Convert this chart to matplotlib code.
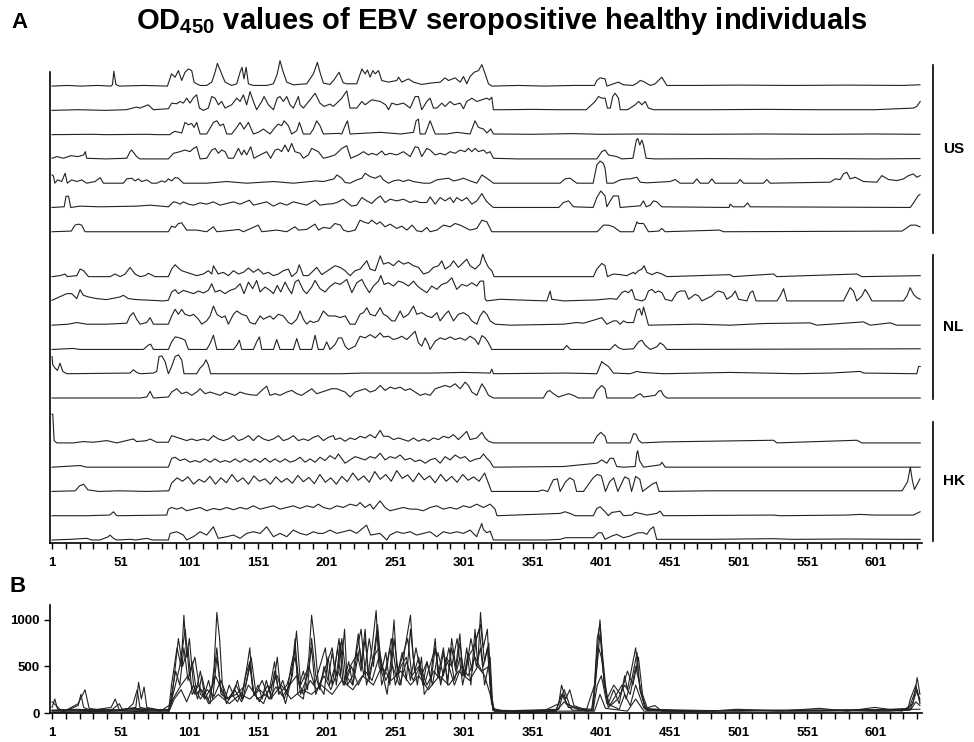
import matplotlib
matplotlib.use("Agg")
import matplotlib.pyplot as plt
import numpy as np

plt.rcParams["font.family"] = ["Liberation Sans", "DejaVu Sans"]
plt.rcParams["font.weight"] = "bold"
plt.rcParams["mathtext.fontset"] = "custom"
plt.rcParams["mathtext.rm"] = "Liberation Sans:bold"
plt.rcParams["mathtext.bf"] = "Liberation Sans:bold"

# residue position vs OD450 (one row of panel A = ~1000 units)
us_1 = [(1, 0), (12, 27), (22, 0), (34, 27), (44, 0), (45, 68), (46, 612), (47.5, 68), (50, 0), (68, 27), (85, 0),
        (88, 503), (90.6, 367), (93, 639), (95.4, 231), (97.8, 571), (100.3, 707), (102.7, 639), (104.4, 163),
        (106.3, 95), (108.8, 27), (113.6, 27), (117.3, 163), (119.7, 571), (121.4, 938), (124.5, 503), (127, 163),
        (131.8, 27), (135.5, 95), (137.9, 571), (139.3, 775), (140.8, 299), (142.3, 775), (144, 95), (147.6, 27),
        (157.3, 27), (162.2, 95), (165, 503), (167, 1047), (169, 639), (171.9, 163), (176.7, 54), (186.4, 95),
        (191.3, 503), (194.2, 979), (196.1, 571), (198.6, 122), (203.4, 68), (206, 231), (210, 571), (213, 136),
        (215.6, 95), (222.9, 95), (226.6, 707), (229, 503), (230.7, 667), (232.6, 367), (234.6, 639), (236.3, 503),
        (238.7, 639), (241.1, 231), (246, 163), (252, 231), (253.3, 367), (255.7, 163), (260.5, 299), (264.2, 163),
        (270.2, 68), (276.3, 122), (283.6, 163), (287.2, 340), (289.7, 231), (294.5, 340), (298.2, 163),
        (300.6, 394), (303, 95), (305.4, 394), (308.4, 571), (311.5, 639), (314, 884), (316.4, 503), (318.8, 95),
        (321.2, 0), (340, 27), (360, 0), (380, 27), (396, 27), (397.7, 231), (400.1, 340), (403.7, 299), (405, 0),
        (409.8, 95), (413.5, 163), (417.1, 54), (424, 27), (427, 122), (429.3, 231), (431.7, 190), (433.7, 122),
        (436.6, 27), (440.2, 95), (445, 367), (448.7, 27), (470, 27), (500, 41), (540, 27), (580, 41), (620, 27),
        (633, 54)]
us_2 = [(1, 0), (20, 27), (40, 0), (55, 27), (62.6, 136), (65, 95), (71, 231), (74.8, 27), (85.7, 68), (88.1, 299),
        (91.8, 272), (94.2, 367), (96.6, 299), (99, 503), (101.5, 299), (104, 530), (106.3, 639), (108.3, 95),
        (111.2, 0), (114.8, 95), (117.3, 571), (119.7, 503), (122.1, 231), (124.5, 367), (127, 95), (131.8, 231),
        (135.5, 503), (137.9, 367), (140.3, 639), (142.7, 231), (145.2, 775), (147.6, 367), (150, 27), (153.7, 367),
        (155.4, 571), (158.5, 231), (162.2, 27), (165, 503), (167, 571), (169.4, 367), (171.9, 571), (174.3, 231),
        (176.7, 95), (180.4, 571), (181.6, 231), (184, 95), (188.9, 435), (192.5, 707), (196.1, 299), (199, 163),
        (203.4, 258), (205.8, 163), (209.6, 367), (212, 503), (215.6, 802), (218, 95), (222.9, 95), (226.6, 367),
        (229, 231), (233.8, 435), (240, 367), (243.9, 231), (246, 27), (248.4, 299), (252, 231), (256.9, 299),
        (261.8, 95), (265.4, 571), (267.8, 571), (270.2, 27), (273.9, 367), (276.3, 503), (278.7, 95), (281.2, 95),
        (284.8, 299), (287.2, 163), (290.9, 367), (293.8, 231), (298.2, 299), (300.6, 68), (303, 367), (306.7, 503),
        (310.3, 367), (313.9, 435), (317.6, 503), (319.5, 435), (321.2, 544), (322.4, 27), (330, 27), (350, 41),
        (370, 27), (390, 27), (396.5, 367), (398.9, 571), (401.3, 503), (403.7, 503), (405.4, 95), (407.5, 95),
        (409.3, 571), (411, 707), (413.5, 503), (414.7, 27), (420, 27), (422, 95), (425.6, 231), (428.1, 367),
        (430.5, 231), (432.9, 367), (435.3, 95), (439, 27), (480, 27), (520, 41), (560, 27), (600, 27),
        (628.3, 95), (630.7, 163), (633.2, 367)]
us_3 = [(1, 0), (30, 14), (40, 0), (70, 14), (78, 0), (87, 0), (88.1, 68), (90.6, 136), (95.4, 68), (97.8, 503),
        (100.3, 408), (102.7, 462), (104.4, 299), (106.3, 503), (108.8, 27), (113.6, 27), (118.5, 503), (121, 571),
        (123.3, 367), (125.8, 435), (128.2, 27), (131.8, 27), (135.5, 299), (137.9, 503), (140.8, 231), (144, 503),
        (147.6, 27), (151.2, 95), (154.9, 231), (159.7, 27), (163.4, 299), (165.8, 435), (168.2, 367), (170, 571),
        (173.1, 367), (175.5, 27), (179.2, 163), (181.1, 503), (184, 27), (188.9, 27), (191.3, 231), (193.7, 571),
        (196.1, 367), (198.6, 27), (210, 54), (212, 27), (214.4, 367), (216.1, 571), (218, 27), (240, 95),
        (255, 27), (264.2, 95), (266.1, 571), (267.8, 639), (269, 27), (272.7, 27), (276.3, 571), (280, 27),
        (288.4, 27), (295.7, 95), (305.4, 27), (309, 571), (311.5, 299), (315.2, 231), (317.6, 68), (320.5, 231),
        (322.4, 27), (350, 14), (380, 41), (400, 14), (430, 27), (470, 14), (520, 27), (560, 14), (600, 27),
        (633, 14)]
us_4 = [(1, 27), (4.4, 95), (9.3, 27), (14.8, 136), (19.7, 95), (24, 163), (25.2, 299), (26.2, 27), (40, 0),
        (55.4, 27), (57.8, 299), (59, 367), (62.6, 95), (65, 0), (85.7, 0), (89.4, 231), (94.2, 299), (97.8, 367),
        (101.5, 299), (104, 435), (106.3, 503), (108.8, 0), (113.6, 27), (117.3, 367), (119.7, 435), (122.1, 231),
        (124.5, 367), (127, 299), (129.4, 27), (133.1, 27), (136.7, 435), (139.1, 163), (140.8, 367), (142.7, 163),
        (145.7, 503), (148, 27), (152.5, 163), (157.3, 299), (160.2, 27), (163.4, 367), (165.8, 408), (168.2, 299),
        (170.6, 571), (173.1, 299), (175.5, 639), (177.9, 299), (181.6, 231), (184, 27), (187.6, 163),
        (190.1, 435), (192.5, 367), (194.9, 299), (198.6, 27), (203.4, 95), (207, 163), (209.6, 299), (212, 435),
        (215.6, 544), (218.5, 27), (224, 163), (227.8, 299), (231.4, 163), (233.8, 231), (237.5, 163),
        (241.1, 326), (243.5, 163), (247.2, 231), (252, 163), (256.9, 299), (261.8, 95), (265.4, 503),
        (267.8, 462), (270.2, 95), (273.9, 435), (276.3, 367), (280, 163), (283.6, 231), (287.2, 163),
        (290.9, 299), (294.5, 231), (298.2, 367), (301.8, 299), (304.2, 435), (306.7, 299), (309.1, 435),
        (311.5, 299), (315.2, 367), (317.6, 231), (320, 299), (322.4, 27), (340, 0), (397.7, 0), (401.3, 299),
        (403.7, 367), (406.2, 163), (412.2, 95), (416, 0), (424, 27), (426.5, 775), (427.5, 843), (429, 571),
        (430.5, 775), (431.7, 571), (433.6, 27), (440, 0), (480, 14), (520, 0), (560, 14), (600, 0), (633, 14)]
us_5 = [(1, 340), (2, 299), (3, 0), (5, 136), (8, 68), (10.5, 408), (12.1, 0), (15.3, 136), (19, 68), (22.6, 136),
        (26.2, 0), (32.3, 68), (36, 231), (38.4, 0), (52.9, 0), (55.4, 177), (59, 204), (61.4, 95), (63.9, 177),
        (66.3, 68), (70, 136), (73.6, 0), (77.2, 0), (80.9, 95), (83.3, 41), (85.7, 177), (88.1, 95), (90.6, 231),
        (93, 204), (96.6, 0), (113.6, 0), (128.2, 68), (142.7, 0), (162.2, 68), (176.7, 0), (193.7, 95),
        (198.6, 68), (206.3, 177), (208.4, 340), (212, 204), (214.4, 27), (218, 0), (222.9, 136), (226.6, 204),
        (229, 408), (232.6, 272), (236.3, 204), (239.9, 313), (242.3, 136), (246, 0), (249.6, 95), (253.3, 136),
        (256.9, 68), (260.5, 136), (264.2, 68), (271.5, 0), (276.3, 0), (281.2, 136), (286, 177), (289.7, 204),
        (293.3, 95), (296.9, 136), (300.6, 204), (305.4, 95), (310.3, 0), (314, 340), (317.6, 204), (322.4, 0),
        (371, 0), (374.6, 177), (378.3, 204), (383.1, 0), (395, 0), (397.7, 748), (400.1, 911), (402.5, 816),
        (403.7, 612), (405, 0), (409.8, 0), (414.7, 136), (419.5, 177), (422, 177), (426.9, 245), (429.3, 41),
        (434, 14), (451, 68), (454.8, 150), (458.4, 0), (468, 0), (470.5, 177), (473, 0), (479, 0), (481.5, 177),
        (483.9, 0), (500, 0), (502.1, 150), (504.5, 0), (519, 0), (521.5, 150), (524, 0), (567.6, 41),
        (571.3, 177), (574.9, 150), (577.3, 381), (579.8, 449), (582.2, 177), (585.8, 245), (591.9, 68),
        (601.6, 41), (605.3, 313), (610.1, 150), (616.2, 109), (621, 177), (624.7, 313), (628.3, 381),
        (630.7, 245), (633.2, 313)]
us_6 = [(1, 0), (9.8, 27), (11.2, 462), (13, 462), (14.6, 0), (21.4, 54), (36, 27), (62.6, 54), (72.4, 95),
        (85.7, 27), (89.4, 231), (91.8, 204), (94.2, 136), (96.6, 231), (100.3, 136), (104, 95), (108.8, 190),
        (113.6, 136), (118.5, 231), (123.3, 95), (128.2, 163), (133.1, 231), (137.9, 136), (144.7, 299),
        (147.6, 95), (152.5, 163), (157.3, 231), (162.2, 54), (167, 190), (171.9, 95), (176.7, 231), (181.6, 163),
        (186.4, 95), (192.5, 299), (196.1, 95), (201, 136), (205, 150), (208.4, 204), (213, 340), (216.8, 163),
        (219.3, 54), (222.9, 95), (226.6, 408), (230.2, 272), (233.8, 163), (236.8, 340), (240, 476),
        (243.5, 204), (247.2, 340), (252, 272), (256.9, 340), (261.8, 204), (265.4, 272), (269, 204),
        (273.9, 204), (276.3, 435), (280, 136), (283.6, 408), (287.2, 272), (290.9, 408), (293.3, 204),
        (295.7, 408), (299.4, 272), (303, 408), (306.7, 136), (310.3, 272), (314, 571), (317.1, 272),
        (319.5, 136), (322.4, 0), (370, 0), (373.4, 204), (377.1, 272), (380.7, 27), (395, 0), (397.7, 408),
        (400.6, 680), (403.7, 476), (405, 27), (407.5, 272), (409.8, 476), (413.5, 476), (414.7, 0), (429.3, 68),
        (431.7, 272), (433.7, 27), (436.6, 95), (439, 272), (441.4, 231), (445, 27), (494, 0), (494.8, 136),
        (497, 27), (505, 27), (507.4, 190), (509.4, 27), (626, 0), (628.3, 190), (632, 503), (633, 530)]
us_7 = [(1, 0), (15, 27), (17.7, 272), (20.2, 313), (22.6, 272), (25, 0), (85.7, 0), (88.1, 231), (90.6, 177),
        (93, 340), (95.4, 367), (99, 68), (106.3, 68), (113.6, 0), (118.5, 204), (121, 0), (133.1, 68),
        (137, 95), (140.3, 0), (151.2, 272), (153.7, 0), (164.6, 68), (171.9, 0), (177.9, 204), (180.4, 68),
        (186.4, 95), (192.5, 313), (195, 68), (198.6, 177), (203.4, 136), (207, 340), (211, 272), (213.2, 68),
        (216.8, 0), (221.7, 68), (225.3, 476), (227.8, 408), (231.4, 340), (233.8, 476), (237.5, 313),
        (239.9, 408), (243.5, 204), (247.2, 313), (252, 136), (255.7, 231), (259.3, 68), (263.2, 272),
        (266.6, 41), (270.2, 0), (273.9, 177), (276.3, 0), (281.2, 68), (286, 272), (290.9, 204), (294.5, 340),
        (298.2, 272), (300.6, 204), (305.4, 68), (310.3, 136), (314, 476), (317.6, 408), (321.2, 0), (398, 0),
        (402.5, 272), (406.2, 272), (409.8, 204), (414.7, 0), (424.4, 0), (426.9, 408), (428, 340), (431.7, 340),
        (435.3, 0), (443, 27), (445, 136), (447.5, 0), (487, 68), (490, 0), (620, 27), (626.3, 272), (630, 272),
        (633, 204)]

nl_1 = [(1, 0), (6.8, 41), (10.5, 109), (12, 0), (19, 41), (21.4, 313), (24, 245), (27.5, 0), (43.2, 0),
        (46.9, 109), (50.5, 0), (54.2, 109), (57.8, 381), (61.4, 109), (65, 0), (68.7, 41), (71.1, 136), (76, 0),
        (85.7, 0), (88.1, 313), (90.6, 489), (93, 354), (95.4, 245), (99, 177), (102.7, 109), (106.3, 41),
        (111.2, 109), (114.8, 245), (117.3, 109), (118.5, 449), (122, 109), (125.7, 177), (129.4, 41),
        (133.1, 245), (136.7, 109), (140.3, 177), (144, 354), (147.6, 177), (151.2, 313), (154.9, 109),
        (158.5, 177), (162.2, 41), (165.8, 109), (169.4, 245), (173.1, 313), (175.5, 0), (179.2, 177),
        (181, 489), (184, 41), (187.6, 41), (191.3, 245), (193.7, 381), (197.4, 82), (201, 218), (203.5, 313),
        (207.1, 449), (210.8, 381), (214.4, 245), (218, 41), (221.7, 245), (225.3, 313), (227.8, 489),
        (230.2, 653), (232.6, 313), (236.3, 245), (240, 857), (242.3, 517), (246, 585), (249.6, 449),
        (253.3, 653), (256.9, 517), (260.5, 585), (264.2, 449), (267.8, 381), (271.5, 109), (275.1, 177),
        (278.7, 381), (282.4, 449), (284.8, 653), (287.2, 313), (290.9, 449), (293.3, 653), (296.9, 381),
        (300.6, 585), (303, 721), (305.4, 449), (309.1, 313), (312.7, 517), (314.7, 925), (316.4, 653),
        (318.8, 381), (321.2, 245), (322.9, 0), (395.2, 0), (397.7, 313), (401.3, 544), (403.7, 449), (405.4, 0),
        (409.8, 109), (414.7, 82), (419.5, 41), (424.4, 177), (425.6, 109), (428, 245), (430.5, 313),
        (432.2, 449), (434.1, 177), (437.8, 82), (441.4, 177), (445, 109), (448.7, 0), (494.8, 82), (497, 0),
        (526.4, 109), (528.8, 0), (587, 109), (590.7, 0), (633.2, 41)]
nl_2 = [(1, 27), (11.7, 299), (15.3, 299), (19, 95), (21.4, 462), (23.8, 231), (27.5, 163), (33.5, 95), (40.8, 54),
        (50.5, 163), (52.9, 231), (56.6, 95), (62.6, 54), (72.4, 27), (82.1, 0), (85.7, 27), (88.1, 367),
        (90.6, 462), (93, 299), (96.6, 435), (100.3, 367), (104, 299), (107.6, 408), (111.2, 326), (114.8, 435),
        (117.3, 707), (119.7, 367), (123.3, 435), (127, 299), (130.6, 435), (134.3, 503), (137.9, 707),
        (140.8, 299), (144, 775), (147.1, 503), (150, 843), (152.5, 367), (156.1, 571), (159.7, 435),
        (162.2, 299), (165, 639), (167.5, 367), (170.7, 775), (173.1, 503), (175.5, 299), (178, 775),
        (180.4, 870), (184, 435), (186.4, 299), (190.1, 571), (192.5, 843), (196.1, 503), (199.8, 367),
        (203.4, 598), (207.1, 748), (210.8, 680), (215.6, 884), (219.3, 340), (222.9, 748), (226.6, 884),
        (229, 612), (232.1, 340), (235, 612), (238.7, 816), (240.4, 1047), (242.8, 680), (246, 748), (249.6, 612),
        (253.3, 816), (256.9, 748), (260.5, 612), (264.2, 816), (267.1, 612), (270.2, 476), (273.9, 340),
        (277.5, 612), (281.2, 476), (284.8, 680), (288.5, 748), (292.1, 952), (295.7, 476), (299.4, 680),
        (303, 612), (306.7, 748), (310.3, 612), (312.7, 816), (315.2, 816), (316.4, 68), (317.6, 0), (327.3, 68),
        (339.4, 41), (361.3, 0), (362.5, 204), (363.7, 408), (364.9, 68), (373.4, 0), (397.7, 41), (407.4, 95),
        (412.2, 68), (415.9, 340), (418.3, 408), (420.7, 340), (423.2, 476), (425.6, 68), (430.5, 0),
        (432.9, 68), (435.3, 408), (437.8, 476), (440.2, 340), (442.6, 408), (445.1, 340), (447.5, 68),
        (452.3, 0), (456, 340), (458.4, 408), (462, 408), (464.5, 68), (469.3, 272), (471.8, 204), (474.2, 0),
        (481.5, 204), (483.9, 340), (486.3, 408), (490, 340), (492.4, 68), (496, 204), (498.5, 408), (500.9, 68),
        (507, 0), (509.4, 340), (511.3, 408), (513.7, 0), (528.8, 0), (531.2, 204), (533.7, 503), (536.1, 0),
        (577.3, 0), (579.8, 272), (582.2, 544), (584.6, 408), (587, 0), (590.7, 204), (593.1, 476), (595.5, 272),
        (598, 0), (621, 0), (623.5, 204), (625.9, 544), (628.3, 272), (630.7, 136), (633.2, 68)]
nl_3 = [(1, 0), (12.9, 41), (19, 109), (26.2, 41), (40.8, 41), (55.4, 82), (57.8, 381), (60.2, 517), (62.6, 245),
        (65.1, 41), (69.9, 109), (72.4, 313), (74.8, 41), (85.7, 41), (88.1, 381), (90.6, 653), (93, 449),
        (95.4, 653), (97.8, 449), (101.5, 381), (104, 449), (107.6, 245), (110, 41), (113.6, 177), (116.1, 381),
        (118.5, 789), (121, 449), (124.5, 313), (127, 381), (129.4, 41), (133.1, 449), (135.5, 585), (139.1, 449),
        (142.7, 381), (145.2, 109), (148.8, 41), (152.5, 381), (154.9, 245), (159.7, 381), (162.2, 245),
        (165.8, 449), (169.4, 381), (173.1, 109), (175.5, 41), (179.2, 245), (181.6, 585), (184, 245),
        (186.4, 41), (188.9, 177), (191.3, 109), (194.9, 177), (198.6, 585), (202.2, 381), (207.1, 381),
        (210.8, 313), (214.4, 381), (218, 41), (221.7, 41), (225.3, 449), (227.8, 517), (230.2, 721),
        (232.6, 449), (236.3, 381), (240, 721), (242.3, 449), (244.8, 381), (248.4, 177), (250.8, 177),
        (254.5, 585), (256.9, 313), (260.5, 449), (264.2, 789), (266.6, 449), (270.2, 517), (273.9, 381),
        (277.5, 313), (281.2, 517), (283.6, 177), (287.2, 449), (289.7, 585), (293.3, 177), (296.9, 449),
        (300.6, 517), (304.2, 381), (306.7, 177), (310.3, 41), (312.7, 381), (315.2, 585), (317.6, 449),
        (320, 177), (323.6, 41), (334.6, 0), (373.4, 41), (383.1, 109), (388, 82), (397.7, 245), (401.3, 313),
        (405, 41), (409.8, 177), (412.2, 177), (414.7, 41), (417.1, 177), (419.5, 109), (424.4, 109),
        (426.9, 612), (428.8, 680), (430.5, 408), (431.7, 748), (433.7, 340), (435.3, 0), (470.5, 41),
        (494.8, 0), (519.1, 68), (553, 95), (557.9, 0), (591.9, 136), (596.8, 0), (611.3, 95), (616.2, 0),
        (633.2, 0)]
nl_4 = [(1, 0), (16.5, 41), (21.4, 0), (67.5, 0), (71.1, 177), (72.8, 218), (74.8, 0), (85.7, 0), (88.1, 313),
        (90.6, 517), (93, 490), (95.4, 449), (97.8, 381), (100.3, 0), (113.6, 0), (116.1, 245), (118.5, 585),
        (121, 0), (133.1, 0), (135.5, 177), (137.4, 381), (139.1, 0), (147.6, 0), (150, 313), (152, 517),
        (153.7, 0), (162.2, 0), (164.6, 408), (167, 0), (176.7, 0), (179.2, 449), (181.6, 0), (190.1, 0),
        (192.5, 585), (194.9, 0), (198.6, 0), (201, 313), (203.4, 0), (207.1, 204), (209.6, 476), (212, 476),
        (214.4, 136), (216.8, 0), (221.7, 136), (225.3, 544), (229, 476), (232.6, 612), (236.3, 476), (240, 680),
        (242.3, 517), (246, 544), (249.6, 408), (253.3, 476), (255.7, 544), (259.3, 408), (263, 612),
        (265.4, 748), (267.8, 272), (270.2, 136), (272.7, 476), (275.1, 204), (276.3, 0), (280, 340),
        (283.6, 476), (287.2, 408), (290.9, 517), (294.5, 408), (298.2, 476), (301.8, 381), (305.4, 544),
        (309.1, 408), (311.5, 204), (314, 571), (316.4, 476), (318.8, 272), (321.2, 0), (373.4, 0),
        (375.8, 163), (378.3, 0), (407.4, 0), (411, 204), (413.5, 68), (417.1, 0), (424.4, 27), (428.1, 313),
        (430.5, 381), (432.9, 177), (436.6, 0), (441.4, 109), (443.8, 272), (446.3, 177), (448.7, 0),
        (633.2, 27)]
nl_5 = [(1, 707), (1.5, 367), (3.2, 231), (4.9, 136), (6.8, 435), (8.8, 95), (11.7, 0), (57.8, 27), (60.2, 163),
        (62.6, 54), (65.1, 0), (74.8, 27), (77.2, 95), (78.9, 707), (80.9, 734), (83.3, 503), (85.7, 0),
        (88.1, 299), (90.6, 707), (93, 775), (95.4, 571), (97.1, 0), (106.3, 0), (108.8, 231), (111.2, 367),
        (113.1, 571), (114.8, 367), (116.5, 0), (210.7, 0), (227.8, 27), (276.3, 27), (300.6, 54), (320, 27),
        (321.2, 190), (322.4, 0), (375.8, 27), (397.7, 0), (401.3, 503), (402.5, 435), (406.2, 299), (409.8, 27),
        (422, 0), (426.9, 95), (430.5, 54), (446.3, 0), (494.8, 54), (543.4, 0), (567.6, 27), (589.5, 95),
        (592, 27), (630.7, 0), (632, 299), (633.2, 299)]
nl_6 = [(1, 0), (65.1, 0), (69.9, 41), (72.4, 272), (74.8, 0), (85.7, 41), (88.1, 245), (91.8, 381), (95.4, 177),
        (99, 245), (102.7, 109), (106.3, 245), (108.8, 381), (112.4, 177), (116.1, 245), (119.7, 177),
        (123.3, 109), (127, 245), (130.6, 177), (134.3, 109), (137.9, 245), (141.5, 177), (145.2, 136),
        (150, 109), (153.7, 313), (157.3, 490), (159.7, 109), (163.4, 177), (167, 109), (171.9, 245),
        (175.5, 313), (179.2, 177), (182.8, 109), (186.4, 245), (190.1, 381), (193.7, 177), (197.4, 245),
        (201, 313), (204.6, 381), (208.3, 381), (214.4, 245), (218, 41), (221.7, 245), (225.3, 313), (229, 381),
        (232.6, 245), (236.3, 313), (240, 517), (243.5, 313), (247.2, 449), (250.8, 381), (254.5, 449),
        (258.1, 313), (261.8, 381), (265.4, 245), (269, 109), (272.7, 177), (276.3, 109), (280, 381),
        (283.6, 449), (287.2, 517), (290.9, 449), (294.5, 585), (298.2, 381), (301.8, 653), (304.2, 517),
        (306.7, 245), (310.3, 109), (314, 585), (316.4, 381), (318.8, 109), (322.4, 0), (358.8, 0), (361.3, 245),
        (363.2, 313), (366.1, 177), (369.8, 41), (373.4, 109), (377.1, 177), (380.7, 109), (384.3, 0),
        (395.2, 0), (397.7, 313), (401.3, 517), (403.7, 381), (405, 0), (424.4, 0), (426.9, 109), (429.3, 177),
        (431.7, 41), (440.2, 109), (442.6, 272), (444.3, 313), (446.3, 109), (448.7, 0), (633.2, 0)]

hk_1 = [(1, 1183), (1.5, 1183), (2.5, 95), (4.4, 0), (16.5, 0), (23.8, 54), (31.1, 27), (40.8, 95), (48.1, 0),
        (60.2, 163), (62.6, 54), (69.9, 95), (72.4, 163), (77.2, 27), (85.7, 27), (88.1, 299), (91.8, 231),
        (95.4, 163), (99, 95), (102.7, 163), (106.3, 95), (111.2, 163), (114.8, 95), (118.5, 299), (122.1, 163),
        (125.8, 95), (129.4, 163), (133.1, 299), (136.7, 95), (140.3, 163), (144, 299), (147.6, 95),
        (151.2, 299), (154.9, 163), (158.5, 95), (162.2, 163), (165.8, 299), (169.4, 95), (173.1, 163),
        (176.7, 299), (180.4, 95), (184, 163), (187.6, 95), (191.3, 231), (194.9, 299), (198.6, 95),
        (202.2, 231), (205.9, 299), (207.1, 136), (210.8, 204), (214.4, 68), (218, 204), (221.7, 136),
        (225.3, 272), (229, 204), (232.6, 340), (236.3, 204), (240, 517), (242.3, 272), (246, 272), (249.6, 136),
        (253.3, 204), (256.9, 136), (260.5, 68), (264.2, 204), (267.8, 68), (271.5, 163), (275.1, 68),
        (278.7, 204), (282.4, 136), (286, 272), (289.7, 204), (293.3, 340), (296.9, 136), (300.6, 340),
        (303, 476), (305.4, 136), (310.3, 204), (314, 435), (316.4, 204), (318.8, 68), (322.4, 0), (395.2, 0),
        (397.7, 272), (400.6, 435), (403.7, 272), (405, 0), (422, 0), (424.4, 381), (426.4, 354), (428.1, 109),
        (430.5, 0), (446.3, 41), (526.4, 109), (528.8, 0), (587, 109), (590.7, 0), (633.2, 0)]
hk_2 = [(1, 0), (21.4, 68), (26.2, 0), (85.7, 0), (88.1, 367), (90.6, 408), (94.2, 272), (97.8, 340),
        (101.5, 204), (105.1, 272), (108.8, 204), (112.4, 340), (116.1, 204), (119.7, 340), (123.3, 204),
        (127, 272), (130.6, 204), (134.3, 340), (137.9, 204), (141.5, 340), (145.2, 204), (148.8, 340),
        (152.5, 204), (156.1, 367), (159.7, 204), (163.4, 340), (167, 204), (170.7, 340), (174.3, 204),
        (178, 272), (181.6, 408), (185.2, 204), (188.9, 340), (192.5, 204), (196.1, 408), (199.8, 272),
        (203.4, 476), (207.1, 340), (209.5, 544), (214.4, 163), (218, 299), (221.7, 435), (225.3, 367),
        (229, 299), (232.6, 435), (236.3, 367), (240, 571), (243.5, 299), (247.2, 435), (250.8, 367),
        (254.5, 503), (258.1, 299), (261.8, 367), (265.4, 231), (269, 299), (272.7, 163), (276.3, 299),
        (280, 367), (283.6, 163), (287.2, 435), (290.9, 299), (294.5, 503), (298.2, 367), (301.8, 435),
        (305.4, 231), (309.1, 326), (312.7, 367), (315.2, 544), (317.6, 367), (320, 231), (322.4, 0),
        (373.4, 27), (397.7, 163), (401.3, 299), (405, 163), (407.4, 367), (409.8, 367), (412.2, 27),
        (417.1, 0), (425.6, 27), (426.8, 571), (427.5, 680), (428.8, 272), (431.7, 0), (443.8, 95),
        (445.1, 204), (447.5, 0), (633.2, 0)]
hk_3 = [(1, 0), (18, 27), (21, 231), (24, 299), (27, 68), (35, 0), (50, 27), (70, 0), (86, 27), (88, 340),
        (92, 560), (96, 420), (100, 600), (104, 300), (108, 500), (112, 380), (116, 620), (120, 300), (124, 560),
        (128, 360), (132, 700), (136, 400), (140, 560), (144, 300), (148, 640), (152, 420), (156, 520),
        (160, 300), (164, 600), (168, 380), (172, 540), (176, 340), (180, 660), (184, 400), (188, 580),
        (192, 320), (196, 700), (200, 380), (204, 560), (208, 300), (212, 620), (216, 400), (220, 760),
        (224, 460), (228, 640), (232, 380), (236, 820), (240, 500), (244, 700), (248, 420), (252, 860),
        (256, 540), (260, 680), (264, 400), (268, 760), (272, 480), (276, 640), (280, 360), (284, 700),
        (288, 420), (292, 620), (296, 380), (300, 700), (304, 460), (308, 600), (312, 420), (316, 760),
        (319, 300), (321, 0), (355, 0), (358, 60), (362, 0), (366, 480), (369, 520), (371, 0), (375, 400),
        (378, 560), (381, 460), (383, 0), (388, 0), (395, 560), (398, 700), (401, 640), (404, 0), (407, 400),
        (410, 560), (413, 0), (418, 600), (421, 520), (423, 0), (426, 620), (429, 500), (431, 0), (438, 300),
        (441, 380), (443, 0), (480, 27), (540, 27), (600, 27), (620, 27), (624, 400), (626, 1000),
        (627.5, 450), (629, 80), (631, 300), (633, 520)]
hk_4 = [(1, 0), (26, 0), (43, 27), (45.7, 163), (48.1, 0), (84.5, 27), (85.7, 272), (88.1, 340), (91.8, 272),
        (95.4, 340), (99, 204), (103.9, 272), (108.8, 340), (113.6, 204), (118.5, 299), (123.3, 245),
        (128.2, 340), (133.1, 245), (137.9, 340), (142.7, 272), (147.6, 408), (152.5, 272), (157.3, 340),
        (162.2, 408), (167, 272), (171.9, 340), (176.7, 408), (181.6, 299), (186.4, 408), (191.3, 340),
        (194.9, 476), (198.6, 340), (203.4, 272), (208.3, 408), (213.1, 340), (218, 476), (222.8, 408),
        (225.3, 544), (228.9, 340), (232.6, 476), (235, 272), (239.8, 612), (243.5, 340), (247.1, 204),
        (252, 272), (256.8, 340), (261.7, 272), (266.5, 272), (271.4, 204), (276.2, 340), (281.1, 408),
        (285.9, 272), (290.8, 340), (295.7, 272), (300.5, 408), (305.4, 340), (310.2, 476), (315.1, 340),
        (320, 476), (323.6, 272), (325, 0), (371, 95), (374.6, 163), (378.2, 95), (381.9, 0), (395.2, 0),
        (397.7, 299), (400.1, 367), (403.7, 163), (406.1, 0), (408.6, 136), (412.2, 163), (414.6, 190),
        (417.1, 0), (423.1, 27), (425.6, 136), (429.2, 95), (434.1, 27), (441.3, 95), (443.8, 190), (446.2, 0),
        (526.3, 27), (531.1, 0), (579.7, 27), (589.4, 54), (600, 27), (628.2, 27), (633.1, 163)]
hk_5 = [(1, 0), (14, 27), (26.2, 68), (30, 0), (36, 0), (42, 136), (43.2, 204), (45.7, 68), (48.1, 0), (58, 27),
        (62, 0), (70, 68), (74, 0), (85.7, 0), (87, 272), (91.8, 340), (96.6, 204), (99, 0), (103.9, 136),
        (108.8, 340), (113.6, 204), (118.5, 544), (122, 68), (128.2, 136), (133.1, 204), (137.9, 68),
        (142.7, 272), (147.6, 340), (152.5, 272), (157.3, 544), (162.2, 136), (167, 272), (171.9, 136),
        (176.7, 408), (181.6, 272), (186.4, 204), (191.3, 340), (194.9, 272), (198.6, 272), (203.4, 408),
        (208.3, 272), (213.1, 340), (218, 408), (222.8, 272), (230, 612), (233, 204), (239.8, 272), (244.7, 0),
        (247.1, 204), (252, 340), (256.8, 272), (261.7, 340), (266.5, 204), (271.4, 272), (276.2, 340),
        (281.1, 136), (285.9, 340), (290.8, 272), (295.7, 340), (300.5, 272), (305.4, 408), (310.2, 136),
        (313.9, 680), (315.1, 435), (317.6, 299), (320, 367), (322.4, 0), (361, 0), (371, 27), (375, 95),
        (395.2, 95), (398.9, 299), (401.3, 299), (403.7, 27), (408.6, 163), (412.2, 231), (417.1, 95),
        (421.9, 163), (424.4, 231), (428, 299), (431.6, 299), (434.1, 231), (436.5, 435), (439, 544),
        (441.3, 27), (480, 27), (526, 54), (540, 27), (580, 41), (620, 27), (633.1, 27)]

# panel B: overlaid OD450 profiles
b_1 = [(1, 60), (3, 150), (5, 40), (12, 30), (20, 80), (22, 200), (24, 60), (30, 20), (45, 40), (50, 100),
       (52, 40), (62, 60), (64, 330), (66, 150), (68, 280), (70, 60), (80, 30), (86, 40), (88, 300), (92, 700),
       (95, 500), (97, 1050), (99, 600), (101, 800), (104, 300), (107, 150), (110, 400), (113, 200), (116, 100),
       (119, 500), (121, 1080), (123, 800), (125, 300), (128, 100), (132, 200), (136, 120), (140, 250),
       (143, 500), (145, 700), (147, 250), (152, 120), (158, 300), (161, 150), (165, 600), (167, 300),
       (171, 100), (175, 350), (178, 800), (180, 200), (184, 150), (188, 600), (190, 1050), (192, 800),
       (195, 300), (199, 200), (202, 600), (205, 300), (209, 700), (211, 400), (214, 900), (216, 300),
       (220, 400), (224, 850), (226, 500), (229, 900), (231, 400), (234, 700), (237, 1100), (239, 500),
       (242, 400), (245, 200), (248, 600), (250, 1000), (252, 500), (255, 300), (258, 700), (262, 1050),
       (264, 600), (267, 300), (270, 600), (272, 200), (276, 300), (280, 800), (282, 400), (286, 700),
       (289, 300), (292, 800), (295, 500), (298, 850), (300, 400), (303, 700), (306, 300), (309, 900),
       (311, 500), (313, 1080), (315, 700), (318, 900), (320, 300), (322, 30), (340, 20), (360, 30),
       (370, 100), (372, 300), (375, 150), (378, 250), (381, 80), (390, 30), (396, 300), (398, 800), (400, 950),
       (402, 600), (404, 300), (406, 100), (410, 250), (414, 100), (418, 400), (420, 250), (424, 550),
       (426, 700), (428, 400), (430, 200), (433, 50), (440, 80), (445, 20), (480, 20), (500, 40), (530, 20),
       (560, 50), (580, 20), (600, 60), (620, 20), (628, 100), (631, 380), (633, 200)]
b_2 = [(1, 30), (10, 20), (20, 100), (25, 250), (28, 50), (40, 20), (55, 30), (60, 100), (63, 250), (65, 60),
       (80, 20), (88, 100), (90, 400), (93, 800), (96, 500), (100, 700), (103, 200), (108, 300), (112, 150),
       (118, 300), (121, 700), (124, 200), (130, 150), (135, 300), (140, 150), (145, 500), (148, 200),
       (155, 100), (160, 300), (163, 550), (166, 200), (172, 300), (178, 600), (182, 200), (187, 400),
       (190, 700), (193, 200), (198, 400), (205, 700), (208, 300), (212, 800), (215, 400), (220, 300),
       (225, 700), (228, 400), (232, 800), (235, 500), (238, 900), (241, 300), (245, 500), (248, 800),
       (252, 400), (256, 600), (260, 800), (263, 400), (268, 500), (272, 300), (276, 500), (280, 700),
       (284, 300), (288, 600), (292, 500), (296, 800), (300, 300), (304, 600), (308, 700), (312, 900),
       (315, 500), (318, 700), (321, 100), (324, 20), (350, 10), (368, 20), (372, 200), (376, 100), (385, 30),
       (394, 30), (396, 200), (399, 700), (401, 600), (405, 150), (410, 300), (415, 200), (420, 450), (424, 300),
       (428, 600), (431, 200), (435, 30), (470, 20), (520, 30), (560, 20), (600, 30), (625, 50), (630, 250),
       (633, 150)]
b_3 = [(1, 120), (4, 80), (8, 20), (30, 30), (44, 60), (47, 150), (50, 30), (70, 40), (86, 30), (90, 250),
       (94, 500), (98, 900), (101, 400), (105, 600), (109, 200), (115, 150), (120, 400), (123, 300), (128, 150),
       (135, 200), (142, 300), (146, 600), (150, 150), (157, 200), (165, 400), (170, 150), (176, 400),
       (179, 880), (182, 300), (188, 500), (192, 300), (196, 500), (200, 700), (203, 300), (207, 500),
       (210, 800), (213, 300), (218, 500), (222, 600), (226, 900), (230, 300), (235, 600), (239, 700),
       (243, 400), (247, 700), (251, 300), (255, 500), (259, 600), (262, 350), (266, 700), (270, 400),
       (274, 550), (278, 300), (282, 650), (286, 400), (290, 700), (294, 350), (298, 600), (302, 400),
       (306, 800), (310, 500), (313, 700), (316, 300), (320, 600), (322, 50), (330, 20), (360, 20), (368, 30),
       (371, 150), (374, 250), (378, 80), (390, 20), (395, 30), (397, 500), (400, 1000), (403, 300), (407, 80),
       (412, 200), (416, 300), (419, 150), (423, 350), (427, 650), (429, 250), (434, 30), (450, 20), (510, 30),
       (540, 20), (580, 30), (610, 20), (624, 30), (626, 150), (630, 300), (633, 100)]
b_4 = [(1, 30), (20, 40), (40, 20), (60, 50), (86, 30), (89, 150), (95, 300), (100, 400), (105, 200), (110, 250),
       (115, 100), (122, 200), (130, 100), (138, 200), (145, 150), (152, 250), (160, 150), (168, 300),
       (175, 150), (183, 250), (190, 200), (197, 300), (205, 200), (212, 350), (220, 250), (227, 400),
       (235, 300), (241, 500), (248, 350), (255, 450), (262, 300), (268, 400), (275, 250), (283, 400),
       (290, 300), (297, 450), (305, 350), (311, 500), (316, 400), (320, 200), (323, 20), (368, 20), (374, 120),
       (380, 30), (395, 30), (398, 300), (401, 400), (405, 100), (414, 40), (418, 200), (422, 80), (426, 300),
       (432, 50), (460, 20), (550, 30), (600, 20), (626, 30), (630, 120), (633, 80)]
b_5 = [(1, 20), (30, 40), (60, 30), (86, 20), (88, 200), (91, 450), (94, 300), (97, 700), (100, 350), (103, 550),
       (106, 250), (109, 450), (112, 200), (115, 350), (118, 150), (121, 600), (124, 250), (127, 150), (130, 300),
       (133, 200), (136, 350), (139, 150), (142, 400), (145, 550), (148, 200), (151, 300), (154, 150), (157, 350),
       (160, 200), (163, 450), (166, 250), (169, 350), (172, 200), (175, 500), (178, 700), (181, 300), (184, 450),
       (187, 250), (190, 800), (193, 400), (196, 250), (199, 500), (202, 350), (205, 650), (208, 400), (211, 750),
       (214, 350), (217, 550), (220, 300), (223, 650), (226, 450), (229, 800), (232, 350), (235, 600), (238, 950),
       (241, 450), (244, 650), (247, 300), (250, 800), (253, 450), (256, 650), (259, 350), (262, 900), (265, 450),
       (268, 600), (271, 300), (274, 550), (277, 350), (280, 700), (283, 400), (286, 650), (289, 350), (292, 700),
       (295, 450), (298, 750), (301, 400), (304, 650), (307, 450), (310, 800), (313, 950), (316, 550), (319, 750),
       (321, 200), (323, 20), (370, 40), (373, 200), (377, 60), (394, 40), (397, 400), (400, 850), (403, 350),
       (406, 60), (413, 150), (418, 300), (422, 200), (426, 500), (429, 300), (433, 40), (500, 20), (600, 30),
       (626, 40), (631, 250), (633, 120)]
b_6 = [(1, 10), (50, 20), (86, 10), (90, 150), (95, 250), (99, 120), (104, 300), (109, 150), (114, 250), (119, 180),
       (124, 350), (129, 150), (134, 250), (139, 120), (144, 300), (149, 200), (154, 350), (159, 150), (164, 280),
       (169, 180), (174, 300), (179, 400), (184, 200), (189, 350), (194, 250), (199, 400), (204, 250), (209, 450),
       (214, 300), (219, 500), (224, 300), (229, 450), (234, 350), (239, 600), (244, 350), (249, 500), (254, 300),
       (259, 550), (264, 350), (269, 500), (274, 300), (279, 450), (284, 350), (289, 550), (294, 300), (299, 500),
       (304, 400), (309, 600), (314, 450), (319, 500), (322, 30), (360, 20), (396, 20), (400, 200), (404, 50),
       (420, 20), (426, 150), (432, 20), (633, 40)]

groups = [("US", [us_1, us_2, us_3, us_4, us_5, us_6, us_7]),
          ("NL", [nl_1, nl_2, nl_3, nl_4, nl_5, nl_6]),
          ("HK", [hk_1, hk_2, hk_3, hk_4, hk_5])]
panel_b = [b_1, b_2, b_3, b_4, b_5, b_6]
x_tick_labels = [1, 51, 101, 151, 201, 251, 301, 351, 401, 451, 501, 551, 601]
b_y_ticks = [0, 500, 1000]

LINE = "#222222"
ROW_STEP = 1000
GROUP_GAP = 1850
XLIM = (-0.5, 634.5)


def style_x(ax):
    ticks = list(range(1, 634, 10))
    ax.set_xticks(ticks)
    ax.set_xticklabels([str(t) if t in x_tick_labels else "" for t in ticks])
    ax.tick_params(axis="x", length=4, width=1, direction="out", pad=6, labelsize=9.5)
    ax.set_xlim(*XLIM)
    for side in ("top", "right"):
        ax.spines[side].set_visible(False)
    ax.spines["left"].set_linewidth(1.2)
    ax.spines["bottom"].set_linewidth(1.2)


fig = plt.figure(figsize=(9.74, 7.42), dpi=100)

# panel A: stacked profiles
ax_a = fig.add_axes([50 / 974, 199 / 742, 872 / 974, 471 / 742])
offset = 0
spans = {}
for name, rows in reversed(groups):
    start = offset
    for data in reversed(rows):
        arr = np.array(data, dtype=float)
        ax_a.plot(arr[:, 0], arr[:, 1] + offset, color=LINE, lw=0.8, clip_on=False)
        last = offset
        offset += ROW_STEP
    spans[name] = (start, last)
    offset = last + GROUP_GAP

ax_a.set_ylim(-124, 19281)
ax_a.set_yticks([])
style_x(ax_a)

for name, (lo, hi) in spans.items():
    ax_a.plot([642.7, 642.7], [lo - 50, hi + 880], color="black", lw=1.2, clip_on=False)
    ax_a.text(650, (lo - 50 + hi + 880) / 2, name, fontsize=11, fontweight="bold",
              ha="left", va="center", clip_on=False)

# panel B: overlay
ax_b = fig.add_axes([50 / 974, 29 / 742, 872 / 974, 108 / 742])
for data in panel_b:
    arr = np.array(data, dtype=float)
    ax_b.plot(arr[:, 0], arr[:, 1], color=LINE, lw=0.8)
ax_b.set_ylim(0, 1160)
ax_b.set_yticks(b_y_ticks)
ax_b.tick_params(axis="y", length=4, width=1, labelsize=9.5)
style_x(ax_b)

fig.text(0.515, 0.972, r"OD$_{450}$ values of EBV seropositive healthy individuals",
         fontsize=21, fontweight="bold", ha="center", va="center")
fig.text(0.012, 0.970, "A", fontsize=16, fontweight="bold", ha="left", va="center")
fig.text(0.010, 0.209, "B", fontsize=16, fontweight="bold", ha="left", va="center")

fig.savefig("out.png", dpi=100)
